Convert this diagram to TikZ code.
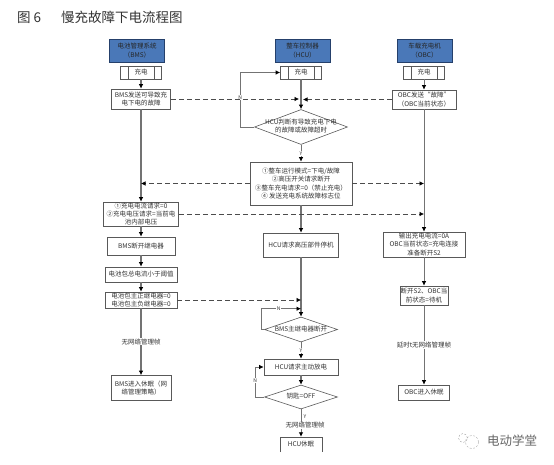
\documentclass[tikz,border=0pt]{standalone}
\usepackage{fontspec}
\setmainfont{Noto Sans CJK SC}
\usetikzlibrary{arrows.meta,shapes.geometric,calc}
\definecolor{headblue}{HTML}{4A78B8}
\definecolor{headedge}{HTML}{25406B}
\newcommand{\dtext}[1]{\makebox[0pt]{\begin{tabular}{@{}c@{}}#1\end{tabular}}}
\tikzset{
  >={Latex[length=4.5pt,width=4.5pt,black]},
  box/.style={draw=black!65, line width=0.6pt, align=center, inner sep=0pt,
              font=\fontsize{6.5}{8.4}\selectfont, text=black!80},
  headbox/.style={box, draw=headedge, line width=0.9pt, fill=headblue, text=black!85,
                  minimum width=55pt, minimum height=23pt},
  chargebox/.style={box, minimum width=41pt, minimum height=13pt,
    path picture={
      \draw[black!65, line width=0.5pt]
        ([xshift=8pt]path picture bounding box.south west) -- ([xshift=8pt]path picture bounding box.north west)
        ([xshift=-7pt]path picture bounding box.south east) -- ([xshift=-7pt]path picture bounding box.north east);}},
  judge/.style={box, diamond, aspect=1},
  mainflow/.style={->, draw=black!55, line width=1.5pt},
  sideflow/.style={->, draw=black!55, line width=0.8pt},
  signal/.style={->, draw=black!70, line width=0.6pt, dash pattern=on 5pt off 3pt},
  lab/.style={inner sep=0.6pt, fill=white, font=\fontsize{6.5}{8}\selectfont, text=black!80},
  yn/.style={lab, font=\fontsize{5}{6}\selectfont}
}
\begin{document}
\begin{tikzpicture}[x=1pt, y=-1pt]
\useasboundingbox (0,0) rectangle (554,465);

\node[font=\fontsize{13.5}{16}\selectfont, text=black!80, anchor=west, inner sep=0pt] (title) at (17,17) {图 6\hspace{20pt}慢充故障下电流程图};

\node[headbox] (bmshead) at (137,50.5) {电池管理系统\\（BMS）};
\node[chargebox] (bmscharge) at (141,72.5) {充电};
\node[box, below of=bmscharge, node distance=26.5pt, minimum width=59pt, minimum height=20pt] (bmsfault) {BMS发送可导致充\\电下电的故障};
\node[box, below of=bmsfault, node distance=115pt, minimum width=75pt, minimum height=24pt] (bmsreq) {①充电电流请求=0\\②充电电压请求=当前电\\池内部电压};
\node[box, below of=bmsreq, node distance=32pt, minimum width=68pt, minimum height=18pt] (bmsopen) {BMS断开继电器};
\node[box, below of=bmsopen, node distance=28.5pt, minimum width=72pt, minimum height=15pt] (bmscurrent) {电池包总电流小于阈值};
\node[box, below of=bmscurrent, node distance=25.5pt, minimum width=72pt, minimum height=16pt] (bmsrelay) {电池包主正继电器=0\\电池包主负继电器=0};
\node[box, below of=bmsrelay, node distance=88pt, minimum width=60pt, minimum height=25pt] (bmssleep) {BMS进入休眠（网\\络管理策略）};

\node[headbox] (hcuhead) at (302.5,50.5) {整车控制器\\（HCU）};
\node[chargebox] (hcucharge) at (301,72.5) {充电};
\node[judge, below of=hcucharge, node distance=54.5pt, minimum width=93pt, minimum height=35pt] (hcujudge) {\dtext{HCU判断有导致充电下电\\的故障或故障超时}};
\node[box, below of=hcujudge, node distance=56.5pt, minimum width=102pt, minimum height=43pt] (hcumode) {①整车运行模式=下电/故障\\②高压开关请求断开\\③整车充电请求=0（禁止充电）\\④ 发送充电系统故障标志位};
\node[box, below of=hcumode, node distance=61.5pt, minimum width=75pt, minimum height=24pt] (hcustop) {HCU请求高压部件停机};
\node[judge, below of=hcustop, node distance=84.5pt, minimum width=73pt, minimum height=25pt] (hcurelay) {\dtext{BMS主继电器断开}};
\node[box, below of=hcurelay, node distance=37.5pt, minimum width=74pt, minimum height=16pt] (hcudis) {HCU请求主动放电};
\node[judge, below of=hcudis, node distance=30pt, minimum width=73pt, minimum height=24pt] (hcukey) {\dtext{钥匙=OFF}};
\node[inner sep=0pt, align=center, text=black!80, font=\fontsize{6.5}{8}\selectfont, minimum width=42pt, minimum height=15pt,
      below of=hcukey, node distance=47.5pt] (hcusleep) {\raisebox{2pt}{HCU休眠}};
\draw[black!65, line width=0.6pt] (hcusleep.south west) |- (hcusleep.north east) -- (hcusleep.south east);

\node[headbox] (obchead) at (424.5,50.5) {车载充电机\\（OBC）};
\node[chargebox] (obccharge) at (424,72.5) {充电};
\node[box, below of=obccharge, node distance=27pt, minimum width=64pt, minimum height=19pt] (obcfault) {OBC发送“故障”\\（OBC当前状态）};
\node[box, below of=obcfault, node distance=145pt, minimum width=82pt, minimum height=25pt] (obcout) {输出充电电流=0A\\OBC当前状态=充电连接\\准备断开S2};
\node[box, below of=obcout, node distance=51pt, minimum width=48pt, minimum height=19pt] (obcs) {断开S2、OBC当\\前状态=待机};
\node[box, below of=obcs, node distance=97pt, minimum width=51pt, minimum height=15pt] (obcsleep) {OBC进入休眠};

\draw[mainflow] (bmscharge) -- (bmsfault);
\draw[mainflow] (bmsfault) -- (bmsreq);
\draw[mainflow] (bmsreq) -- (bmsopen);
\draw[mainflow] (bmsopen) -- (bmscurrent);
\draw[mainflow] (bmscurrent) -- (bmsrelay);
\draw[mainflow] (bmsrelay) -- node[lab] (bmsnonet) {无网络管理帧} (bmssleep);

\draw[mainflow] (hcucharge) -- (hcujudge);
\draw[sideflow] (hcujudge) -- node[yn] (hcuy) {Y} (hcumode);
\draw[mainflow] (hcumode) -- (hcustop);
\draw[mainflow] (hcustop) -- (hcurelay);
\draw[sideflow] (hcurelay) -- node[yn] (relayy) {Y} (hcudis);
\draw[mainflow] (hcudis) -- (hcukey);
\draw[sideflow] (hcukey) -- node[lab, pos=0.58, xshift=4pt] (hcunonet) {无网络管理帧} (hcusleep);
\node[yn] (keyy) at (305,417) {Y};
\draw[sideflow] (hcujudge.west) -- ++(-14,0) |- node[yn, pos=0.27] (hcun) {N} (hcucharge.west);
\draw[sideflow] (hcurelay.west) -- ++(-3,0) |- node[yn, pos=0.72] (relayn) {N} ([yshift=8pt]hcurelay.north);
\draw[sideflow] (hcukey.west) -- ++(-9,0) |- node[yn, pos=0.27] (keyn) {N} (hcudis.west);

\draw[sideflow] (obccharge) -- (obcfault);
\draw[sideflow] (obcfault) -- (obcout);
\draw[sideflow] (obcout) -- (obcs);
\draw[sideflow] (obcs) -- node[lab] (obcdelay) {延时t无网络管理帧} (obcsleep);

\draw[signal] (bmsfault.east) -- ([xshift=-2pt]bmsfault -| hcucharge);
\draw[signal] (obcfault.west) -- ([xshift=2pt]obcfault -| hcucharge);
\draw[signal] (hcumode.west) -- (hcumode -| bmsfault);
\draw[signal] (hcumode.east) -- (hcumode -| obcfault);
\draw[signal] (bmsreq.east) -- (bmsreq -| obcfault);
\draw[signal] (bmsrelay.east) -- (bmsrelay -| hcucharge);

\node[draw=black!35, dash pattern=on 2pt off 1.5pt, circle, minimum size=9pt, inner sep=0pt] (wxsmall) at (463,438) {};
\node[draw=black!35, dash pattern=on 2pt off 1.5pt, circle, minimum size=13pt, inner sep=0pt] (wxlarge) at (472,442) {};
\node[font=\fontsize{12.5}{14}\selectfont, text=black!60, inner sep=0pt] (wxname) at (512,441) {电动学堂};
\end{tikzpicture}
\end{document}
